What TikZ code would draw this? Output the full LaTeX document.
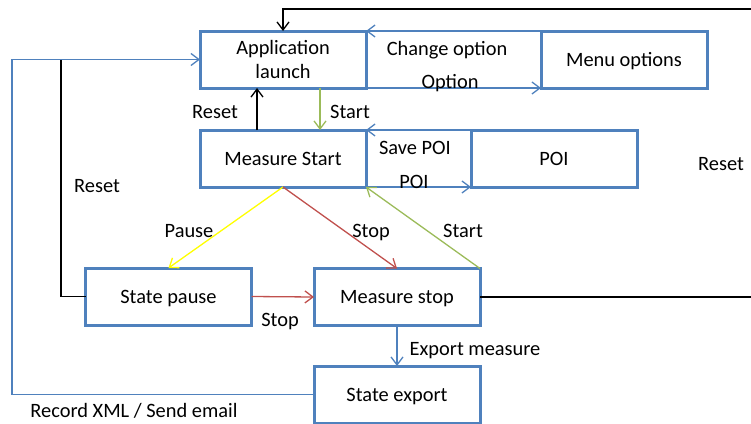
\documentclass[tikz,border=0pt]{standalone}
\usepackage{fontspec}
\setmainfont{Carlito}
\usetikzlibrary{arrows.meta}
\definecolor{cblue}{HTML}{4F81BD}
\definecolor{cgreen}{HTML}{9BBB59}
\definecolor{cred}{HTML}{C0504D}
\definecolor{cyellow}{HTML}{FFFF00}
\tikzset{
  box/.style={draw=cblue, line width=3pt, minimum width=166pt, minimum height=57pt,
    inner sep=0pt, outer sep=0pt, align=center, font=\fontsize{20.4}{24}\selectfont},
  onebox/.style={box, text height=13pt, text depth=0pt},
  lbl/.style={anchor=base, inner sep=0pt, font=\fontsize{20.4}{24}\selectfont},
  conn/.style={line width=1.3pt, -{Straight Barb[length=8pt,width=12pt]}},
  plain/.style={line width=1.3pt},
}
\begin{document}
\begin{tikzpicture}[x=1pt,y=-1pt]
\useasboundingbox (0,0) rectangle (751,423);
% boxes
\node[box] (app) at (283,59.5) {\raisebox{-1.5pt}{Application}\\\raisebox{-1.5pt}{launch}};
\node[onebox] (menu) at (624,59.5) {Menu options};
\node[onebox] (mstart) at (283,158.5) {Measure Start};
\node[onebox] (poi) at (554,158.5) {POI};
\node[onebox] (pause) at (168.5,296.5) {State pause};
\node[onebox] (mstop) at (397,297) {Measure stop};
\node[onebox] (export) at (397,394.5) {State export};
% helper coordinates
\coordinate (rs) at (257,0);
\coordinate (sg) at (320,0);
\coordinate (lx) at (12,0);
\coordinate (rx) at (61,0);
\coordinate (fx) at (758,0);
\coordinate (top) at (283,9);
% connectors
\draw[conn, cblue] (menu.north west) -- (app.north east);
\draw[conn, cblue] (app.south east) -- (menu.south west);
\draw[conn, cblue] (poi.north west) -- (mstart.north east);
\draw[conn, cblue] (mstart.south east) -- (poi.south west);
\draw[conn, black] (rs |- mstart.north) -- (rs |- app.south);
\draw[conn, cgreen] (sg |- app.south) -- (sg |- mstart.north);
\draw[conn, cyellow] (mstart.south) -- (pause.north);
\draw[conn, cred] (mstart.south) -- (mstop.north);
\draw[conn, cgreen] (mstop.north east) -- (mstart.south east);
\draw[conn, cred] (pause.east) -- (mstop.west);
\draw[conn, cblue] (mstop.south) -- (export.north);
\draw[conn, cblue] (export.west) -- (lx |- export.west) -- (lx |- app.west) -- (app.west);
\draw[plain, black] (pause.west) -- (rx |- pause.west) -- (rx |- app.west);
\draw[conn, black] (mstop.east) -- (fx |- mstop.east) -- (fx |- top) -- (top) -- (app.north);
% labels
\node[lbl] (l1) at (447,55) {Change option};
\node[lbl] (l2) at (450,88) {Option};
\node[lbl] (l3) at (215,118) {Reset};
\node[lbl] (l4) at (350,118) {Start};
\node[lbl] (l5) at (415,154) {Save POI};
\node[lbl] (l6) at (414,188) {POI};
\node[lbl] (l7) at (721,170) {Reset};
\node[lbl] (l8) at (97,192) {Reset};
\node[lbl] (l9) at (189,237) {Pause};
\node[lbl] (l10) at (371,237) {Stop};
\node[lbl] (l11) at (463,237) {Start};
\node[lbl] (l12) at (280,326) {Stop};
\node[lbl] (l13) at (475,355) {Export measure};
\node[lbl] (l14) at (134,417) {Record XML / Send email};
\end{tikzpicture}
\end{document}
